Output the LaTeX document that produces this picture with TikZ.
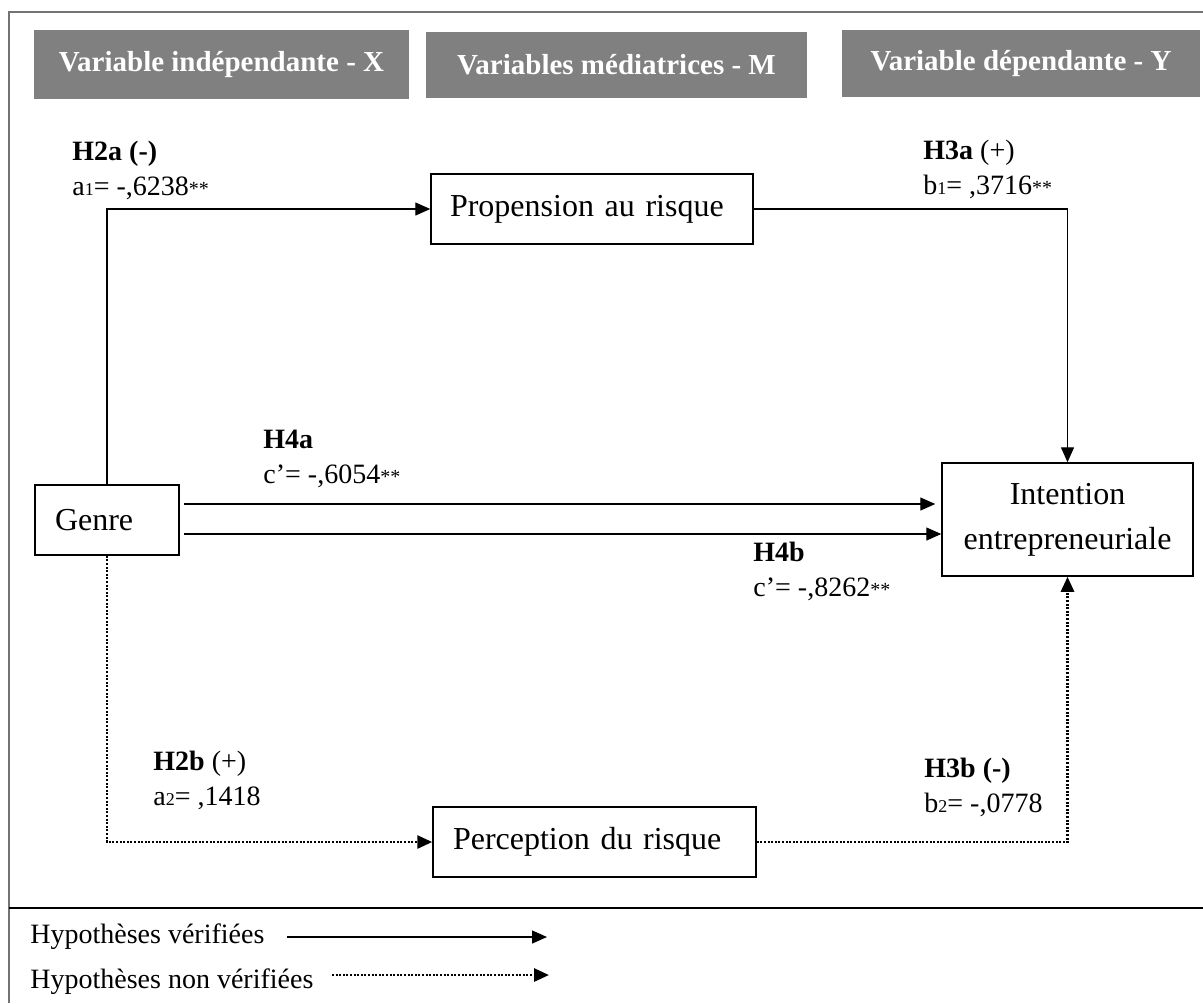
\documentclass[tikz,border=0pt]{standalone}
\usepackage{fontspec}
\setmainfont{Liberation Serif}
\usetikzlibrary{arrows.meta}

\newcommand{\petit}[1]{{\fontsize{9}{9}\selectfont #1}}
\newcommand{\etoiles}{{\fontsize{10}{10}\selectfont **}}

\begin{document}
\begin{tikzpicture}[x=0.5pt, y=-0.5pt,
    titre/.style={fill=gray, text=white, inner sep=0pt, font=\fontsize{14.5}{16}\selectfont\bfseries},
    boite/.style={draw, line width=0.75pt, inner sep=0pt, font=\fontsize{16}{22.5}\selectfont},
    lab/.style={anchor=base west, inner sep=0pt, align=left, font=\fontsize{14}{17.5}\selectfont},
    fleche/.style={line width=0.7pt, -{Triangle[length=7.5pt,width=6.5pt]}},
    pointille/.style={fleche, line width=1.4pt, dash pattern=on 1pt off 0.8pt}]
    \useasboundingbox (0,0) rectangle (1203,1003);

    % cadre
    \draw[line width=1pt, black!55] (9,1003) -- (9,12) -- (1203,12);
    \draw[line width=0.75pt] (9,908) -- (1203,908);

    % en-tetes
    \node[titre, minimum width=187.5pt, minimum height=34.5pt] (tX) at (221.5,64.5) {Variable indépendante - X};
    \node[titre, minimum width=190.5pt, minimum height=33pt] (tM) at (616.5,65) {Variables médiatrices - M};
    \node[titre, minimum width=179pt, minimum height=33.5pt] (tY) at (1021,63.5) {Variable dépendante - Y};

    % variables
    \node[boite, minimum height=35pt, text width=52pt, inner xsep=10pt, align=left] (genre) at (107,520) {Genre};
    \node[boite, minimum height=35pt, text width=142pt, inner xsep=9.5pt, align=left] (prop) at (592,209) {Propension au risque};
    \node[boite, minimum height=35pt, text width=141.5pt, inner xsep=10pt, align=left] (perc) at (594.5,842) {Perception du risque};
    \node[boite, minimum width=125.5pt, minimum height=56.5pt, align=center] (inten) at (1067.5,519.5) {Intention\\entrepreneuriale};

    % liens
    \draw[fleche] (genre.north) |- (prop.west);
    \draw[fleche] (prop.east) -| (inten.north);
    \draw[fleche, shorten <=2pt, shorten >=3pt] ([yshift=8pt]genre.east) -- ([yshift=8pt]genre.east -| inten.west);
    \draw[fleche, shorten <=2pt] ([yshift=-7pt]genre.east) -- ([yshift=-7pt]genre.east -| inten.west);
    \draw[pointille] (genre.south) |- (perc.west);
    \draw[pointille] (perc.east) -| (inten.south);

    % coefficients (base = derniere ligne)
    \node[lab] (lH2a) at (72,195) {\textbf{H2a (-)}\\a\petit{1}= -,6238\etoiles};
    \node[lab] (lH3a) at (923,194) {\textbf{H3a} (+)\\b\petit{1}= ,3716\etoiles};
    \node[lab] (lH4a) at (263,483) {\textbf{H4a}\\c’= -,6054\etoiles};
    \node[lab] (lH4b) at (753,596) {\textbf{H4b}\\c’= -,8262\etoiles};
    \node[lab] (lH2b) at (153,805) {\textbf{H2b} (+)\\a\petit{2}= ,1418};
    \node[lab] (lH3b) at (924,812) {\textbf{H3b (-)}\\b\petit{2}= -,0778};

    % legende
    \node[lab] (legV) at (30,943) {Hypothèses vérifiées};
    \node[lab] (legN) at (30,988) {Hypothèses non vérifiées};
    \coordinate (legVa) at (287,937);
    \coordinate (legVb) at (547,937);
    \coordinate (legNa) at (332,975);
    \coordinate (legNb) at (549,975);
    \draw[fleche] (legVa) -- (legVb);
    \draw[pointille] (legNa) -- (legNb);
\end{tikzpicture}
\end{document}
